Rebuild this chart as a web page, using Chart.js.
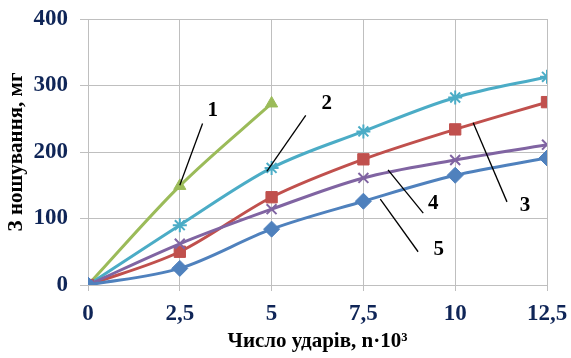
<!DOCTYPE html>
<html>
<head>
<meta charset="utf-8">
<script src="https://cdn.jsdelivr.net/npm/chart.js@4/dist/chart.umd.min.js"></script>
<style>
  html, body { margin: 0; padding: 0; background: #fff; }
  #wrap { width: 571px; height: 358px; }
</style>
</head>
<body>
<div id="wrap"><canvas id="chart" width="571" height="358"></canvas></div>
<script>
const xValues = [0, 2.5, 5, 7.5, 10, 12.5];
const xTickLabels = ["0", "2,5", "5", "7,5", "10", "12,5"];
const yTickValues = [0, 100, 200, 300, 400];

const series1 = [0, 149, 273];
const series2 = [0, 90, 176, 231, 282, 313];
const series3 = [0, 50, 132, 189, 234, 275];
const series4 = [0, 62, 114, 161, 188, 211];
const series5 = [0, 25, 84, 126, 165, 191];

// leader lines: [x1, y1, x2, y2, labelX, labelY, label] in data units
const leaders = [
  [2.5, 150, 3.12, 243, 3.4, 262, "1"],
  [4.87, 171, 5.93, 255, 6.5, 273, "2"],
  [10.49, 244, 11.41, 125, 11.9, 120, "3"],
  [8.17, 173, 9.13, 108, 9.4, 123, "4"],
  [7.96, 129, 8.99, 50, 9.55, 53, "5"],
];

function pts(arr) {
  return arr.map((v, i) => ({ x: xValues[i], y: v }));
}

const tickColor = "#0F2557";
const tickFont = { family: "'Liberation Serif', serif", size: 23, weight: "bold" };
const titleFont = { family: "'Liberation Serif', serif", size: 21, weight: "bold" };

const leaderPlugin = {
  id: "leaders",
  afterDatasetsDraw(chart) {
    const ctx = chart.ctx;
    const xs = chart.scales.x;
    const ys = chart.scales.y;
    ctx.save();
    ctx.strokeStyle = "#000";
    ctx.lineWidth = 1.3;
    ctx.fillStyle = "#000";
    ctx.font = "bold 21px 'Liberation Serif', serif";
    ctx.textAlign = "center";
    ctx.textBaseline = "middle";
    leaders.forEach((l) => {
      ctx.beginPath();
      ctx.moveTo(xs.getPixelForValue(l[0]), ys.getPixelForValue(l[1]));
      ctx.lineTo(xs.getPixelForValue(l[2]), ys.getPixelForValue(l[3]));
      ctx.stroke();
      ctx.fillText(l[6], xs.getPixelForValue(l[4]), ys.getPixelForValue(l[5]));
    });
    ctx.restore();
  },
};

function ds(data, color, style, radius) {
  return {
    data: pts(data),
    borderColor: color,
    backgroundColor: color,
    borderWidth: 3,
    pointStyle: style,
    pointRadius: radius,
    pointBorderWidth: style === "star" || style === "crossRot" ? 2 : 1,
    pointBorderColor: color,
    pointBackgroundColor: color,
    cubicInterpolationMode: "monotone",
  };
}

new Chart(document.getElementById("chart"), {
  type: "line",
  data: {
    datasets: [
      ds(series5, "#4F81BD", "rectRot", 8),
      ds(series4, "#8064A2", "crossRot", 7),
      ds(series3, "#C0504D", "rect", 8),
      ds(series2, "#4BACC6", "star", 7),
      ds(series1, "#9BBB59", "triangle", 7),
    ],
  },
  plugins: [leaderPlugin],
  options: {
    responsive: false,
    animation: false,
    layout: { padding: { top: 19, right: 24, left: 0, bottom: 0 } },
    plugins: { legend: { display: false }, tooltip: { enabled: false } },
    scales: {
      x: {
        type: "linear",
        min: 0,
        max: 12.5,
        afterBuildTicks(scale) {
          scale.ticks = xValues.map((v) => ({ value: v }));
        },
        afterFit(scale) {
          scale.height = 73;
          scale.paddingLeft = 0;
          scale.paddingRight = 0;
        },
        ticks: {
          color: tickColor,
          font: tickFont,
          padding: 9,
          maxRotation: 0,
          callback: (v) => xTickLabels[xValues.indexOf(v)],
        },
        grid: { color: "#BFBFBF", tickLength: 6, lineWidth: 1 },
        border: { color: "#BFBFBF" },
        title: {
          display: true,
          text: "Число ударів, n·10³",
          color: "#000",
          font: titleFont,
          padding: { top: 7 },
        },
      },
      y: {
        min: 0,
        max: 400,
        afterBuildTicks(scale) {
          scale.ticks = yTickValues.map((v) => ({ value: v }));
        },
        afterFit(scale) {
          scale.width = 88;
          scale.paddingTop = 0;
          scale.paddingBottom = 0;
        },
        ticks: { color: tickColor, font: tickFont, padding: 12 },
        grid: { color: "#BFBFBF", tickLength: 8, lineWidth: 1 },
        border: { color: "#BFBFBF" },
        title: {
          display: true,
          text: "З ношування, мг",
          color: "#000",
          font: titleFont,
          padding: { bottom: 0 },
        },
      },
    },
  },
});
</script>
</body>
</html>
